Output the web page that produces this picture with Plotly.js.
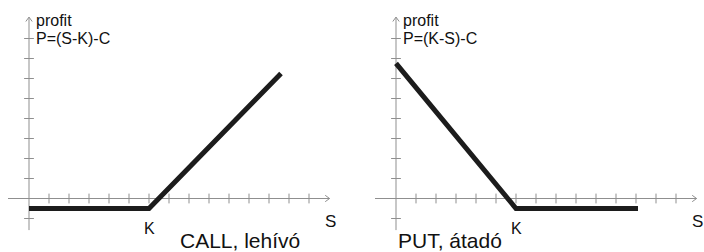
<!DOCTYPE html>
<html>
<head>
<meta charset="utf-8">
<script src="https://cdn.plot.ly/plotly-3.0.1.min.js"></script>
<style>html,body{margin:0;padding:0;background:#fff}#chart{width:704px;height:252px}</style>
</head>
<body>
<div id="chart"></div>
<script>
// ---- data ----
const strikeK = 6;
const xTicks = [1,2,3,4,5,6,7,8,9,10,11,12,13,14];
const yTicks = [-1,1,2,3,4,5,6,7,8];
const callS = [0, 6, 12.6];
const callP = [-0.5, -0.5, 6.25];
const putS = [0, 6, 12.1];
const putP = [6.76, -0.5, -0.5];
const panelTitles = ['CALL, lehívó', 'PUT, átadó'];
const formulas = ['P=(S-K)-C', 'P=(K-S)-C'];
const yLabel = 'profit';
const xLabel = 'S';
const kLabel = 'K';

// ---- style / geometry ----
const axisMin = {x: -1.05, y: -1.58};
const axisMax = {x: 15.03, y: 9.07};
const axisColor = '#8f8f8f';
const lineColor = '#1c1c1c';
const font = 'Liberation Sans, Arial, sans-serif';

const traces = [];
const shapes = [];
const annotations = [];
const panels = [
  {xa: 'x', ya: 'y', s: callS, p: callP, title: panelTitles[0], f: formulas[0], titleX: 10.55},
  {xa: 'x2', ya: 'y2', s: putS, p: putP, title: panelTitles[1], f: formulas[1], titleX: 2.7}
];
function txt(pn, text, x, y, size, xanchor) {
  return {xref: pn.xa, yref: pn.ya, showarrow: false, text: text, x: x, y: y,
    xanchor: xanchor, yanchor: 'middle', borderpad: 0,
    font: {family: font, size: size, color: '#111'}};
}
panels.forEach((pn) => {
  // axes
  shapes.push({type: 'line', xref: pn.xa, yref: pn.ya, x0: axisMin.x, x1: axisMax.x, y0: 0, y1: 0,
    line: {color: axisColor, width: 1}, layer: 'below'});
  shapes.push({type: 'line', xref: pn.xa, yref: pn.ya, x0: 0, x1: 0, y0: axisMin.y, y1: axisMax.y,
    line: {color: axisColor, width: 1}, layer: 'below'});
  // arrowheads (open chevrons)
  const ax = axisMax.x, ay = axisMax.y;
  shapes.push({type: 'path', xref: pn.xa, yref: pn.ya,
    path: `M${ax-0.22},0.16 L${ax},0 L${ax-0.22},-0.16`, line: {color: axisColor, width: 1}, layer: 'below'});
  shapes.push({type: 'path', xref: pn.xa, yref: pn.ya,
    path: `M-0.16,${ay-0.22} L0,${ay} L0.16,${ay-0.22}`, line: {color: axisColor, width: 1}, layer: 'below'});
  // ticks
  traces.push({x: xTicks, y: xTicks.map(() => 0), xaxis: pn.xa, yaxis: pn.ya, mode: 'markers', hoverinfo: 'skip',
    marker: {symbol: 'line-ns', size: 7, line: {color: axisColor, width: 1}}});
  traces.push({x: yTicks.map(() => 0), y: yTicks, xaxis: pn.xa, yaxis: pn.ya, mode: 'markers', hoverinfo: 'skip',
    marker: {symbol: 'line-ew', size: 7, line: {color: axisColor, width: 1}}});
  // profit line
  traces.push({x: pn.s, y: pn.p, xaxis: pn.xa, yaxis: pn.ya, mode: 'lines',
    line: {color: lineColor, width: 5}});
  // labels
  annotations.push(txt(pn, yLabel, 0.3, 8.92, 16, 'left'));
  annotations.push(txt(pn, pn.f, 0.3, 8.0, 16, 'left'));
  annotations.push(txt(pn, xLabel, 15.05, -1.17, 17, 'center'));
  annotations.push(txt(pn, kLabel, strikeK, -1.5, 16, 'center'));
  annotations.push(txt(pn, pn.title, pn.titleX, -2.08, 21, 'center'));
});

const layout = {
  width: 704, height: 252,
  margin: {l: 0, r: 0, t: 0, b: 0, pad: 0},
  paper_bgcolor: '#fff', plot_bgcolor: '#fff',
  showlegend: false,
  xaxis: {domain: [0, 0.5], range: [-1.45, 16.15], visible: false, fixedrange: true},
  yaxis: {domain: [0, 1], range: [-2.675, 9.925], visible: false, fixedrange: true},
  xaxis2: {domain: [0.5, 1], range: [-2.2, 15.4], visible: false, anchor: 'y2', fixedrange: true},
  yaxis2: {domain: [0, 1], range: [-2.675, 9.925], visible: false, anchor: 'x2', fixedrange: true},
  shapes: shapes,
  annotations: annotations
};
Plotly.newPlot('chart', traces, layout, {displayModeBar: false, staticPlot: true});
</script>
</body>
</html>
